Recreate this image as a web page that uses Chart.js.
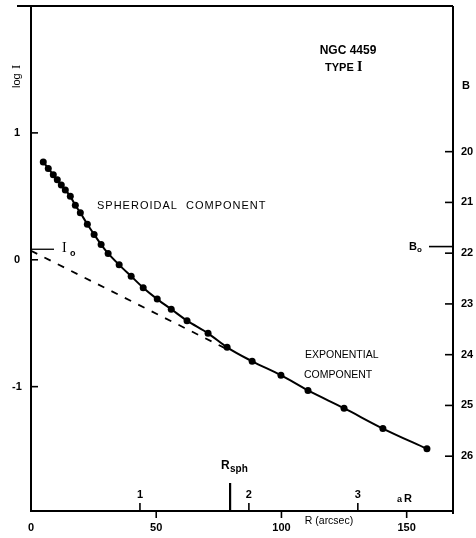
<!DOCTYPE html>
<html>
<head>
<meta charset="utf-8">
<script src="https://cdn.jsdelivr.net/npm/chart.js@4/dist/chart.umd.min.js"></script>
<style>
  html, body { margin: 0; padding: 0; background: #fff; }
  #wrap { width: 476px; height: 538px; }
</style>
</head>
<body>
<div id="wrap"><canvas id="profile" width="476" height="538"></canvas></div>
<script>
// NGC 4459 surface brightness profile
const radius = [4.9, 6.9, 8.9, 10.5, 12.1, 13.7, 15.7, 17.7, 19.7, 22.5, 25.2, 28.0, 30.8, 35.2, 40.0, 44.8, 50.4, 56.0, 62.3, 70.7, 78.3, 88.3, 99.8, 110.6, 125.0, 140.5, 158.1];
const logI = [0.77, 0.72, 0.67, 0.63, 0.59, 0.55, 0.50, 0.43, 0.37, 0.28, 0.20, 0.12, 0.05, -0.04, -0.13, -0.22, -0.31, -0.39, -0.48, -0.58, -0.69, -0.80, -0.91, -1.03, -1.17, -1.33, -1.49];

// exponential (disk) component, dashed
const expR = [0, 80];
const expLogI = [0.071, -0.722];

// axis ticks
const rTicks = [0, 50, 100, 150];
const logTicks = [-1, 0, 1];
const bTicks = [20, 21, 22, 23, 24, 25, 26];
const aRTicks = [1, 2, 3];
const aScale = 43.5;   // arcsec per unit of aR
const rSph = 79.5;
const logI0 = 0.075;
const B0 = 21.87;

const SANS = '"Liberation Sans", Arial, sans-serif';
const SERIF = '"Liberation Serif", "Times New Roman", serif';

const axesPlugin = {
    id: 'oldAxes',
    afterDraw(chart) {
        const ctx = chart.ctx;
        const x = chart.scales.x, y = chart.scales.y, yB = chart.scales.yB;
        const a = chart.chartArea;
        ctx.save();
        ctx.strokeStyle = '#000';
        ctx.fillStyle = '#000';
        ctx.lineWidth = 2;

        // frame
        ctx.beginPath();
        ctx.moveTo(17, a.top); ctx.lineTo(a.right, a.top);
        ctx.moveTo(a.left, a.top); ctx.lineTo(a.left, a.bottom);
        ctx.lineTo(a.right, a.bottom);
        ctx.moveTo(a.right, a.top); ctx.lineTo(a.right, a.bottom + 3);
        ctx.stroke();

        ctx.lineWidth = 1.6;
        ctx.font = 'bold 11px ' + SANS;
        ctx.textBaseline = 'middle';

        // left log I ticks (inward)
        ctx.textAlign = 'center';
        logTicks.forEach(v => {
            const py = y.getPixelForValue(v);
            ctx.beginPath(); ctx.moveTo(a.left, py); ctx.lineTo(a.left + 7, py); ctx.stroke();
            ctx.fillText(v < 0 ? '-' + Math.abs(v) : String(v), 17, py);
        });

        // right B ticks (inward)
        ctx.textAlign = 'left';
        bTicks.forEach(v => {
            const py = yB.getPixelForValue(v);
            ctx.beginPath(); ctx.moveTo(a.right - 8, py); ctx.lineTo(a.right, py); ctx.stroke();
            ctx.fillText(String(v), 461, py);
        });
        ctx.fillText('B', 462, 86);

        // B0 marker
        const pB0 = yB.getPixelForValue(B0);
        ctx.beginPath(); ctx.moveTo(429, pB0); ctx.lineTo(a.right, pB0); ctx.stroke();
        ctx.fillText('B', 409, pB0);
        ctx.font = 'bold 8px ' + SANS;
        ctx.fillText('o', 417, pB0 + 3);

        // bottom R ticks (outward)
        ctx.font = 'bold 11px ' + SANS;
        ctx.textAlign = 'center';
        rTicks.forEach(v => {
            const px = x.getPixelForValue(v);
            if (v > 0) { ctx.beginPath(); ctx.moveTo(px, a.bottom); ctx.lineTo(px, a.bottom + 7); ctx.stroke(); }
            ctx.fillText(String(v), px, 528);
        });

        // aR ticks (inward)
        aRTicks.forEach(v => {
            const px = x.getPixelForValue(v * aScale);
            ctx.beginPath(); ctx.moveTo(px, a.bottom); ctx.lineTo(px, a.bottom - 8); ctx.stroke();
            ctx.fillText(String(v), px, 495);
        });

        // R_sph marker
        const pS = x.getPixelForValue(rSph);
        ctx.lineWidth = 2.2;
        ctx.beginPath(); ctx.moveTo(pS, a.bottom); ctx.lineTo(pS, 483); ctx.stroke();
        ctx.textAlign = 'left';
        ctx.font = 'bold 12px ' + SANS;
        ctx.fillText('R', 221, 466);
        ctx.font = 'bold 10px ' + SANS;
        ctx.fillText('sph', 230, 469);

        // aR label
        ctx.font = 'bold 9px ' + SANS;
        ctx.fillText('a', 397, 500);
        ctx.font = 'bold 11px ' + SANS;
        ctx.fillText('R', 404, 499);

        // R (arcsec)
        ctx.font = '10.5px ' + SANS;
        ctx.textAlign = 'center';
        ctx.fillText('R (arcsec)', 329, 521);

        // I0 marker
        const pI0 = y.getPixelForValue(logI0);
        ctx.lineWidth = 1.3;
        ctx.beginPath(); ctx.moveTo(a.left, pI0 - 1); ctx.lineTo(54, pI0 - 1); ctx.stroke();
        ctx.textAlign = 'left';
        ctx.font = '14px ' + SERIF;
        ctx.fillText('I', 62, pI0 - 2);
        ctx.font = 'bold 9px ' + SANS;
        ctx.fillText('o', 70, pI0 + 3);

        // log I axis title
        ctx.save();
        ctx.translate(17, 76);
        ctx.rotate(-Math.PI / 2);
        ctx.textAlign = 'left';
        ctx.font = '11px ' + SANS;
        ctx.fillText('log', -12, 0);
        ctx.font = '13px ' + SERIF;
        ctx.fillText('I', 7, 0);
        ctx.restore();

        // annotations
        ctx.font = 'bold 12px ' + SANS;
        ctx.textAlign = 'center';
        ctx.fillText('NGC 4459', 348, 51);
        ctx.textAlign = 'left';
        ctx.font = 'bold 11px ' + SANS;
        ctx.fillText('TYPE', 325, 68);
        ctx.font = 'bold 14px ' + SERIF;
        ctx.fillText('I', 357, 67);

        ctx.font = '11px ' + SANS;
        ctx.letterSpacing = '1px';
        ctx.fillText('SPHEROIDAL  COMPONENT', 97, 206);
        ctx.letterSpacing = '0px';
        ctx.font = '10.5px ' + SANS;
        ctx.fillText('EXPONENTIAL', 305, 355);
        ctx.fillText('COMPONENT', 304, 375);

        ctx.restore();
    }
};

new Chart(document.getElementById('profile').getContext('2d'), {
    type: 'line',
    data: {
        datasets: [
            {
                label: 'profile',
                data: radius.map((r, i) => ({ x: r, y: logI[i] })),
                borderColor: '#000',
                backgroundColor: '#000',
                borderWidth: 2,
                pointRadius: 3.5,
                pointBorderWidth: 0,
                cubicInterpolationMode: 'monotone'
            },
            {
                label: 'exponential',
                data: expR.map((r, i) => ({ x: r, y: expLogI[i] })),
                borderColor: '#000',
                borderWidth: 1.8,
                borderDash: [7, 8],
                pointRadius: 0
            }
        ]
    },
    options: {
        responsive: false,
        animation: false,
        layout: { padding: { left: 31, right: 23, top: 6, bottom: 27 } },
        plugins: { legend: { display: false }, tooltip: { enabled: false } },
        scales: {
            x: { type: 'linear', min: 0, max: 168.5, display: false },
            y: { type: 'linear', min: -1.98, max: 2.0, display: false },
            yB: { type: 'linear', position: 'right', min: 17.13, max: 27.08, reverse: true, display: false }
        }
    },
    plugins: [axesPlugin]
});
</script>
</body>
</html>
